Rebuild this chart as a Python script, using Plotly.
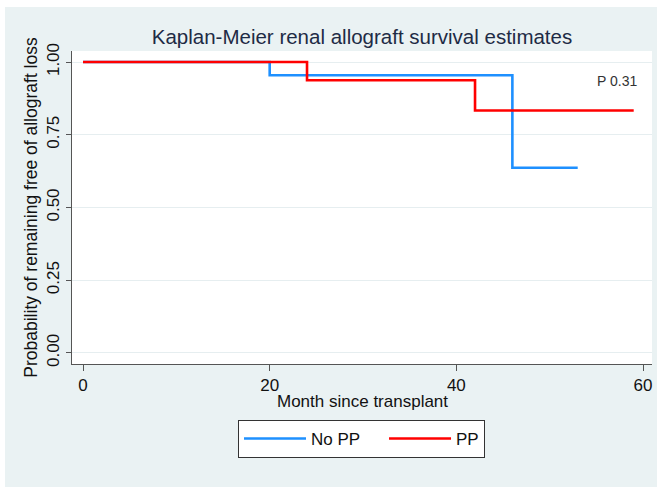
import plotly.graph_objects as go

# Kaplan-Meier step estimates per group
months_no_pp = [0, 20, 46, 53]
surv_no_pp = [1.0, 0.9545, 0.6364, 0.6364]
months_pp = [0, 24, 42, 59]
surv_pp = [1.0, 0.9375, 0.8333, 0.8333]

y_ticks = [0, 0.25, 0.5, 0.75, 1.0]
y_tick_text = ["0.00", "0.25", "0.50", "0.75", "1.00"]
x_ticks = [0, 20, 40, 60]

W, H = 657, 487
L, R, T, B = 72, 5, 51, 123
pw, ph = W - L - R, H - T - B

def px_x(p):
    return (p - L) / pw

def px_y(p):
    return (H - B - p) / ph

font = "Liberation Sans, Arial, sans-serif"
bg = "#EAF2F3"
pad = "\u00a0" * 4  # widens the first legend entry

fig = go.Figure()
fig.add_trace(go.Scatter(x=months_no_pp, y=surv_no_pp, mode="lines", line_shape="hv",
                         line=dict(color="#1E90FF", width=2.6), name="No PP" + pad))
fig.add_trace(go.Scatter(x=months_pp, y=surv_pp, mode="lines", line_shape="hv",
                         line=dict(color="#FF0000", width=2.6), name="PP"))

fig.update_layout(
    width=W, height=H,
    margin=dict(l=L, r=R, t=T, b=B),
    paper_bgcolor=bg, plot_bgcolor="white",
    font=dict(family=font, size=17, color="#111"),
    title=dict(text="Kaplan-Meier renal allograft survival estimates",
               x=px_x(362), xref="paper", xanchor="center",
               y=1 - 37 / H, yanchor="middle",
               font=dict(size=20.5, color="#1E2B45")),
    showlegend=True,
    legend=dict(orientation="h", x=px_x(361.5), xanchor="center",
                y=px_y(420), yanchor="top", bgcolor="white",
                bordercolor="#333", borderwidth=1, itemwidth=62,
                font=dict(size=17, color="#111")),
    xaxis=dict(range=[-1.18, 60.96], tickvals=x_ticks, showgrid=False, zeroline=False,
               showline=True, linecolor="#555", linewidth=1,
               ticks="outside", ticklen=6, tickcolor="#555",
               tickfont=dict(size=17)),
    yaxis=dict(range=[-0.038, 1.038], tickvals=y_ticks, ticktext=y_tick_text,
               tickangle=-90, showgrid=True, gridcolor="#E6EEF0", gridwidth=1,
               zeroline=False, showline=True, linecolor="#555", linewidth=1,
               ticks="outside", ticklen=5, tickcolor="#555",
               tickfont=dict(size=17),
               title=dict(text="Probability of remaining free of allograft loss",
                          standoff=2, font=dict(size=17.5))),
    annotations=[
        dict(text="Month since transplant", x=px_x(362), y=px_y(401),
             xref="paper", yref="paper", xanchor="center", yanchor="middle",
             showarrow=False, font=dict(size=17, color="#111")),
        dict(text="P 0.31", x=57.2, y=0.935, xref="x", yref="y",
             xanchor="center", yanchor="middle", showarrow=False,
             font=dict(size=14, color="#333")),
    ],
    shapes=[
        # white frame around the graph region
        dict(type="rect", xref="paper", yref="paper", x0=px_x(0), x1=px_x(W),
             y0=px_y(7), y1=px_y(0), fillcolor="white", line_width=0, layer="above"),
        dict(type="rect", xref="paper", yref="paper", x0=px_x(0), x1=px_x(5),
             y0=px_y(H), y1=px_y(0), fillcolor="white", line_width=0, layer="above"),
    ],
)

fig.write_html("out.html")
